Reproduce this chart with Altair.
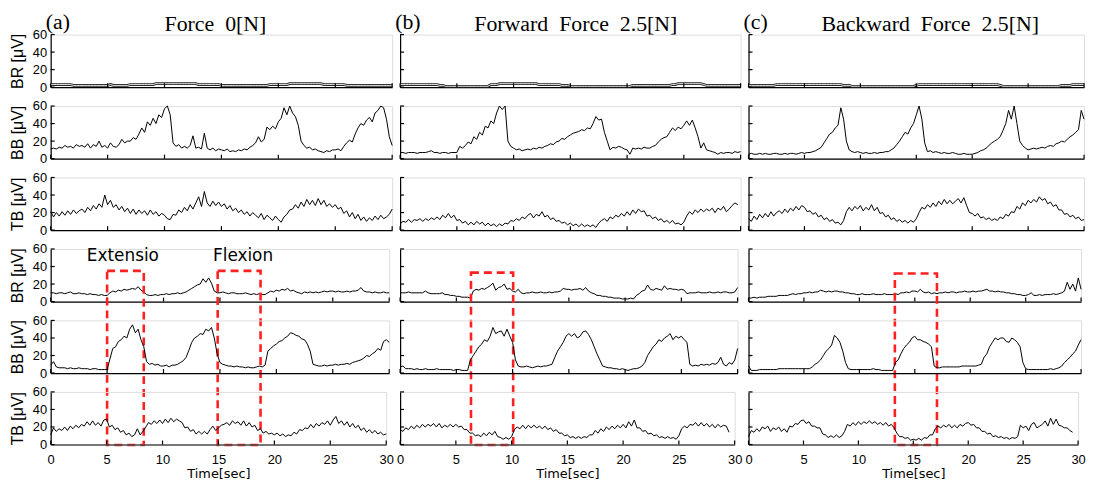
import altair as alt
import pandas as pd

# ---------------- data ----------------
TIME = [i * 0.25 for i in range(121)]  # 0 .. 30 s sampling grid
X_TICKS = [0, 5, 10, 15, 20, 25, 30]
Y_TICKS = [0, 20, 40, 60]
MUSCLES = ["BR", "BB", "TB", "BR", "BB", "TB"]
PANEL_LETTERS = ["(a)", "(b)", "(c)"]
CONDITIONS = ["Force\u00a0 0[N]", "Forward\u00a0 Force\u00a0 2.5[N]", "Backward\u00a0 Force\u00a0 2.5[N]"]
NOTES = ["Extensio", "Flexion"]
NOTE_T = [6.4, 17.05]
NOTE_V = [52, 52]

# (a) Force 0[N]
BR_A1 = [3,3,3,3,3,3,3,3,2,2,2,2,2,2,2,2,2,2,2,2,
         2,3,2,2,2,2,2,2,3,3,3,3,3,3,3,3,3,4,4,4,
         4,4,4,4,4,4,4,4,4,4,4,4,3,3,3,3,3,3,3,3,
         2,2,2,2,2,2,2,2,2,2,2,2,2,2,2,2,2,3,3,3,
         3,3,3,3,4,4,4,4,4,4,4,4,4,4,4,4,3,3,3,3,
         3,3,3,3,2,2,2,2,2,2,2,2,2,2,2,2,2,2,2,2,2]
BB_A1 = [11,12,11,13,12,15,13,14,12,16,14,15,13,17,12,16,14,20,13,15,
         12,18,14,13,16,22,18,20,20,24,22,28,35,30,42,38,46,40,50,47,
         57,60,50,18,14,16,12,14,12,15,26,12,13,11,29,12,10,12,9,11,
         10,9,11,8,9,8,10,9,11,10,13,15,18,25,19,22,36,33,37,34,
         42,46,58,50,60,52,48,38,20,15,12,13,10,11,9,8,7,9,8,10,
         10,11,9,14,18,21,19,28,35,40,38,44,47,42,52,55,60,58,45,25,15]
TB_A1 = [21,15,20,16,21,17,22,18,23,19,22,24,20,26,22,28,24,30,26,40,
         29,34,26,29,23,27,21,25,19,24,18,23,19,22,17,23,18,21,16,19,
         17,13,12,18,17,23,20,26,22,29,24,31,38,27,44,31,27,33,28,32,
         27,30,24,28,22,25,20,23,18,21,16,20,17,14,19,12,17,14,11,16,
         12,9,15,18,23,24,29,25,32,27,35,29,34,28,36,29,34,27,30,26,
         29,24,26,19,22,15,20,13,18,11,15,10,14,11,16,12,17,13,15,18,24]
BR_A2 = [10,10,9,10,10,9,10,11,9,9,10,9,9,8,9,8,8,7,8,7,
         7,10,12,11,13,12,14,13,14,15,14,17,13,11,8,7,7,8,7,8,
         8,9,8,9,9,10,9,10,11,13,15,17,19,20,26,22,27,21,12,10,
         10,11,10,9,10,10,9,9,9,10,9,8,9,8,9,8,8,10,12,11,
         13,12,14,13,15,12,13,11,10,9,11,10,11,10,11,10,11,12,11,12,
         12,11,12,11,11,12,11,12,12,13,16,12,11,11,10,11,10,10,11,10,10]
BB_A2 = [9,13,7,6,6,6,5,6,5,5,6,5,5,5,4,5,5,4,4,4,
         4,16,28,30,36,38,42,40,50,55,46,50,38,30,13,10,11,9,10,8,
         8,9,7,9,9,10,12,14,18,26,35,40,42,45,44,50,48,52,40,22,
         12,10,9,8,8,7,8,7,7,6,7,6,6,7,8,7,9,25,28,31,
         33,36,37,40,42,46,45,43,42,39,38,33,25,10,9,8,8,9,8,9,
         9,10,9,10,10,11,10,12,13,14,15,17,20,19,22,24,28,26,36,38,35]
TB_A2 = [11,19,15,18,16,20,16,21,18,22,19,23,21,26,22,27,22,25,21,28,
         29,20,22,17,19,14,16,11,13,9,11,18,11,15,20,25,23,27,24,28,
         24,29,25,30,26,29,27,25,19,20,15,17,12,15,12,15,12,17,21,16,
         19,22,23,25,22,27,24,26,22,27,21,25,20,22,16,18,13,15,12,13,
         11,13,10,12,9,11,10,14,12,17,16,19,18,23,19,24,21,25,23,27,
         22,28,32,24,27,22,26,20,24,19,22,16,19,14,17,13,16,12,14,11,12]

# (b) Forward Force 2.5[N]
BR_B1 = [3,3,3,3,3,3,3,3,3,3,3,3,3,3,2,2,1,1,1,1,
         1,1,1,1,1,1,1,1,1,1,1,1,3,3,3,4,4,4,4,4,
         4,4,4,4,4,4,4,4,4,3,3,3,3,3,3,3,3,2,2,2,
         1,1,1,1,1,1,1,1,1,1,1,1,1,1,1,1,1,1,1,1,
         1,1,2,2,2,2,2,2,2,2,2,2,2,2,2,2,3,3,4,4,
         4,4,4,4,4,4,4,3,2,2,2,2,2,2,2,2,2,2,2,2,2]
BB_B1 = [7,7,6,7,7,7,6,7,7,7,8,9,7,7,6,7,7,6,7,7,
         7,14,12,15,19,17,25,22,30,27,37,35,43,40,52,60,56,60,20,14,
         12,10,11,9,10,11,10,12,11,13,12,14,15,17,16,19,20,23,22,25,
         27,29,30,31,33,32,35,34,40,48,44,45,30,20,10,13,12,14,13,11,
         10,5,12,11,12,11,13,12,12,14,15,19,22,24,25,30,35,32,36,34,
         38,43,38,44,35,25,12,18,10,9,8,7,5,7,6,7,7,6,8,7,8]
TB_B1 = [7,10,9,12,9,12,11,13,10,13,11,14,12,15,12,17,14,19,14,17,
         11,12,8,10,6,9,6,10,7,9,5,8,5,7,4,7,5,8,7,11,
         10,13,11,15,13,17,19,14,18,16,21,15,17,12,14,10,11,8,9,6,
         8,5,7,4,7,4,6,4,6,3,8,11,13,10,15,13,17,15,19,16,
         21,17,23,19,24,21,22,16,17,13,15,11,13,9,11,8,11,7,8,6,
         9,16,21,18,23,20,24,21,24,22,25,20,25,23,27,21,24,28,31,29,None]
BR_B2 = [10,10,10,11,10,10,10,10,10,12,10,9,9,9,9,10,8,8,7,7,
         6,6,5,5,5,4,12,14,13,15,14,16,18,21,13,16,17,20,14,15,
         12,11,14,10,9,10,10,11,10,10,11,10,10,11,10,11,11,12,15,14,
         14,13,14,14,15,13,16,12,10,9,7,7,6,6,5,5,4,4,4,3,
         3,3,4,3,7,9,12,13,19,14,13,15,14,13,18,14,15,14,14,13,
         14,13,9,10,10,10,11,10,10,10,11,10,10,11,10,11,11,10,10,11,16]
BB_B2 = [7,8,5,5,5,4,5,4,4,5,4,4,4,5,4,4,4,4,4,3,
         4,4,3,3,3,15,20,25,30,33,38,36,42,52,45,47,48,42,50,42,
         35,15,8,7,7,8,7,6,7,8,7,8,8,9,10,18,25,30,35,42,
         45,42,45,40,42,47,48,44,38,30,22,15,8,7,6,6,5,5,4,5,
         4,3,4,5,5,6,8,12,20,25,30,33,38,36,40,42,45,38,42,40,
         42,38,35,10,8,9,8,10,9,10,9,11,10,12,18,10,8,12,10,15,28]
TB_B2 = [17,15,19,17,21,18,22,19,23,20,23,21,24,20,24,19,22,20,23,20,
         23,20,21,17,17,13,13,10,11,9,13,10,14,11,15,9,8,6,8,6,
         9,17,20,18,22,18,22,19,22,19,21,18,21,17,19,15,17,13,13,10,
         11,8,9,7,9,7,9,8,11,11,16,13,18,15,20,17,21,18,22,19,
         23,19,26,21,28,19,19,15,16,12,13,10,11,8,9,7,9,7,8,6,
         10,18,21,19,23,22,25,21,25,21,24,20,23,19,23,20,22,21,14,None,None]

# (c) Backward Force 2.5[N]
BR_C1 = [2,2,2,2,2,2,2,2,2,2,3,3,3,3,3,3,3,3,3,3,
         3,3,3,3,3,3,3,3,3,3,3,3,3,3,2,2,2,1,1,1,
         1,1,1,1,1,1,1,1,1,1,1,1,1,1,1,1,1,1,1,1,
         2,3,3,3,3,3,3,3,3,3,3,3,3,3,3,3,3,3,3,3,
         3,3,3,3,3,3,3,3,3,3,2,1,1,1,1,1,1,1,1,1,
         1,1,1,1,1,1,1,1,1,1,1,1,2,2,2,2,3,3,3,3,3]
BB_C1 = [5,6,5,5,6,5,6,5,5,6,6,5,5,6,5,6,6,5,6,7,
         6,7,7,8,9,11,13,18,23,28,30,35,38,58,45,20,10,8,7,8,
         7,6,7,6,6,7,6,7,7,8,8,10,12,16,20,25,30,28,35,40,
         50,60,45,18,8,9,7,8,7,6,7,6,6,7,6,5,5,6,5,5,
         5,6,7,9,10,12,15,18,20,22,25,32,40,55,45,60,40,20,15,12,
         10,11,12,11,12,13,12,14,15,14,17,18,20,19,22,25,27,30,33,55,45]
TB_C1 = [13,10,16,12,18,14,19,15,21,16,20,22,19,24,20,25,22,27,23,28,
         26,21,22,18,20,15,17,12,14,10,12,8,9,6,11,21,26,22,27,24,
         28,22,26,23,29,22,26,19,20,15,17,12,14,10,12,9,11,8,11,9,
         13,20,26,24,29,26,31,27,33,29,35,30,34,30,33,36,31,37,28,20,
         19,16,19,14,15,12,14,11,13,11,15,13,18,16,21,20,27,24,31,28,
         34,31,35,32,38,34,36,30,32,27,29,23,23,18,19,15,17,13,15,11,12]
BR_C2 = [4,4,5,4,5,5,5,6,6,6,6,7,7,7,7,8,9,8,9,9,
         10,10,11,10,11,11,13,12,11,12,11,12,12,11,11,10,10,9,9,8,
         8,9,8,8,8,9,8,8,8,9,8,8,8,9,8,10,10,11,10,12,
         12,11,14,11,10,11,9,10,9,10,10,11,10,11,11,10,11,11,12,11,
         11,12,11,12,12,13,14,12,12,11,12,11,11,10,10,9,9,8,8,7,
         7,8,10,7,7,8,7,8,8,8,9,8,9,10,12,22,14,20,12,27,14]
BB_C2 = [8,3,3,3,4,4,4,4,4,4,4,5,5,5,5,5,5,5,5,5,
         5,5,5,7,10,12,15,20,25,28,32,43,40,35,25,12,5,4,4,4,
         4,4,4,4,4,5,4,4,3,3,3,3,3,12,15,22,28,32,35,40,
         42,38,38,36,35,33,30,8,6,6,7,7,7,7,7,7,7,8,8,8,
         8,8,8,9,10,18,22,30,35,40,38,40,40,36,35,40,38,35,30,12,
         5,4,4,4,4,4,4,4,4,5,4,5,6,8,12,15,18,22,25,32,38]
TB_C2 = [9,16,14,18,15,20,18,21,15,19,17,20,15,18,14,21,20,24,23,27,
         28,24,26,21,21,19,19,12,11,8,10,8,11,8,10,15,23,21,25,22,
         26,23,26,24,27,24,26,23,25,22,25,21,23,19,13,9,9,7,8,5,
         6,5,7,5,8,7,11,11,18,21,19,22,20,23,19,22,19,23,21,24,
         25,22,23,19,19,15,15,12,13,9,10,8,9,7,8,6,8,7,9,22,
         19,21,16,23,25,19,21,23,27,21,30,23,29,22,21,19,19,16,14,None,None]

SERIES = [
    [BR_A1, BB_A1, TB_A1, BR_A2, BB_A2, TB_A2],
    [BR_B1, BB_B1, TB_B1, BR_B2, BB_B2, TB_B2],
    [BR_C1, BB_C1, TB_C1, BR_C2, BB_C2, TB_C2],
]
# red dashed boxes: start / end time [sec] and top level [uV]
BOX_START = [[5.0, 14.8], [6.3], [13.2]]
BOX_END = [[8.25, 18.6], [10.05], [17.0]]
BOX_TOP = [35, 33, 32]

# ---------------- layout / style ----------------
H = 53
S = 19
WIDTHS = [344, 343, 338]
ROW_SHRINK = [0, 0, 0, 3, 3, 6]
COL_GAP = 8
TITLE_X = [166, 177, 183]
SANS = "Liberation Sans"
WIDE = "DejaVu Sans"
SERIF = "Liberation Serif"
RED = "#ff2020"

for col in SERIES:
    for s in col:
        assert len(s) == len(TIME), len(s)


def panel(c, r):
    W = WIDTHS[c] - ROW_SHRINK[r]
    df = pd.DataFrame({"t": TIME, "v": SERIES[c][r]})
    xs = alt.Scale(domain=[0, 30], nice=False, zero=False)
    ys = alt.Scale(domain=[0, 60], nice=False)
    if r == 5:
        xaxis = alt.Axis(values=X_TICKS, ticks=False, grid=False, labelFlush=False,
                         labelPadding=9, labelFont=SANS, labelFontSize=13,
                         labelColor="black", title="Time[sec]", titleFont=WIDE,
                         titleFontSize=13, titleFontWeight="normal", titleColor="black",
                         titlePadding=1, domainColor="black", domainWidth=1.2)
    else:
        xaxis = alt.Axis(values=X_TICKS, ticks=False, grid=False, labels=False,
                         title=None, domainColor="black", domainWidth=1.2)
    if c == 0:
        yaxis = alt.Axis(values=Y_TICKS, ticks=False, grid=False, labelPadding=4,
                         labelFont=SANS, labelFontSize=13, labelColor="black",
                         labelFlush=False, title=MUSCLES[r] + " [\u03bcV]",
                         titleFont=SANS, titleFontSize=16, titleFontWeight="normal",
                         titleColor="black", titlePadding=7,
                         domainColor="black", domainWidth=1.2)
    else:
        yaxis = alt.Axis(values=Y_TICKS, ticks=False, grid=False, labels=False,
                         title=None, domainColor="black", domainWidth=1.2)

    X = lambda f: alt.X(f, type="quantitative", scale=xs, axis=xaxis)
    Y = lambda f: alt.Y(f, type="quantitative", scale=ys, axis=yaxis)

    layers = []
    if r == 0:
        base = alt.Chart(df).encode(x=X("t"), y=Y("v"))
        layers.append(base.mark_line(color="#222", strokeWidth=2.8))
        layers.append(base.mark_line(color="white", strokeWidth=0.9))
    else:
        layers.append(alt.Chart(df).mark_line(color="black", strokeWidth=1.0)
                      .encode(x=X("t"), y=Y("v")))

    # inward tick marks
    xt = pd.DataFrame({"t": X_TICKS})
    layers.append(alt.Chart(xt).mark_rule(color="black", strokeWidth=1.2)
                  .encode(x=X("t"), y=alt.value(H), y2=alt.value(H - 4)))
    yt = pd.DataFrame({"v": Y_TICKS})
    layers.append(alt.Chart(yt).mark_rule(color="black", strokeWidth=1.2)
                  .encode(y=Y("v"), x=alt.value(0), x2=alt.value(4)))

    if r == 3:
        bottom = -(2 * (H + S)) * 60.0 / H - 0.6
        bx = pd.DataFrame({"t0": BOX_START[c], "t1": BOX_END[c],
                           "top": [BOX_TOP[c]] * len(BOX_START[c]),
                           "bot": [bottom] * len(BOX_START[c])})
        layers.append(alt.Chart(bx).mark_rect(fillOpacity=0, stroke=RED, strokeWidth=2.6,
                                              strokeDash=[8, 5])
                      .encode(x=X("t0"), x2="t1", y=Y("top"), y2="bot"))
        if c == 0:
            nd = pd.DataFrame({"t": NOTE_T, "v": NOTE_V, "label": NOTES})
            layers.append(alt.Chart(nd).mark_text(font=WIDE, fontSize=17, color="black")
                          .encode(x=X("t"), y=Y("v"), text="label:N"))

    if r == 0:
        td = pd.DataFrame({"label": [PANEL_LETTERS[c]]})
        layers.append(alt.Chart(td).mark_text(font=SERIF, fontSize=22, align="left",
                                              baseline="middle", color="black")
                      .encode(text="label:N", x=alt.value(-5), y=alt.value(-13)))
        cd = pd.DataFrame({"label": [CONDITIONS[c]]})
        layers.append(alt.Chart(cd).mark_text(font=SERIF, fontSize=22, align="center",
                                              baseline="middle", color="black")
                      .encode(text="label:N", x=alt.value(TITLE_X[c]), y=alt.value(-11)))

    return alt.layer(*layers).properties(width=W, height=H)


cells = [panel(c, r) for r in range(6) for c in range(3)]

chart = alt.concat(*cells, columns=3, spacing={"row": S, "column": COL_GAP},
                   bounds="flush").properties(
    padding={"left": 1, "top": 0, "right": 0, "bottom": 0}
).configure_view(stroke=None).configure(background="white")

chart.save("out.html", embed_options={"renderer": "svg", "actions": False})
